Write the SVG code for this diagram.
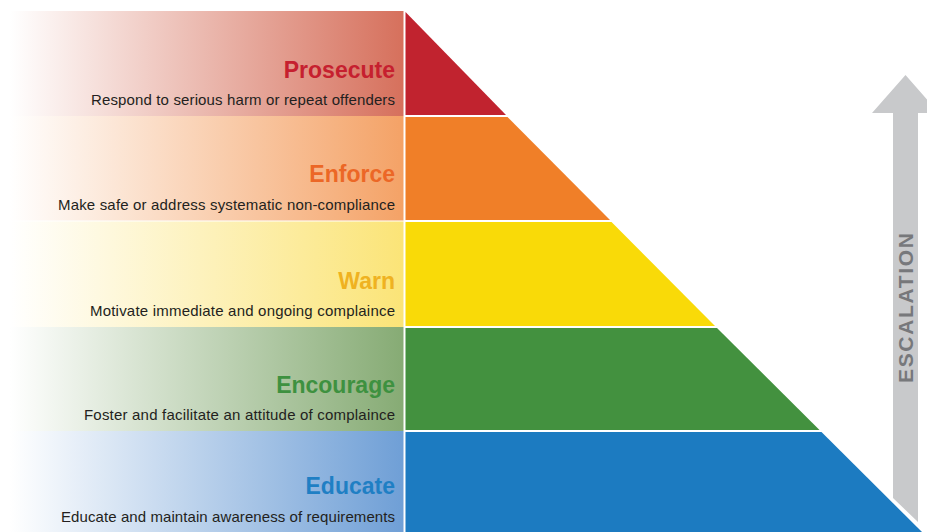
<svg xmlns="http://www.w3.org/2000/svg" width="927" height="532" viewBox="0 0 927 532">
<defs>
<linearGradient id="gRed" gradientUnits="userSpaceOnUse" x1="10" y1="0" x2="404" y2="0"><stop offset="0" stop-color="#ffffff"/><stop offset="1" stop-color="#d6705c"/></linearGradient>
<linearGradient id="gOrange" gradientUnits="userSpaceOnUse" x1="10" y1="0" x2="404" y2="0"><stop offset="0" stop-color="#ffffff"/><stop offset="1" stop-color="#f4a266"/></linearGradient>
<linearGradient id="gYellow" gradientUnits="userSpaceOnUse" x1="10" y1="0" x2="404" y2="0"><stop offset="0" stop-color="#ffffff"/><stop offset="1" stop-color="#fbe477"/></linearGradient>
<linearGradient id="gGreen" gradientUnits="userSpaceOnUse" x1="10" y1="0" x2="404" y2="0"><stop offset="0" stop-color="#ffffff"/><stop offset="1" stop-color="#86ab74"/></linearGradient>
<linearGradient id="gBlue" gradientUnits="userSpaceOnUse" x1="10" y1="0" x2="404" y2="0"><stop offset="0" stop-color="#ffffff"/><stop offset="1" stop-color="#6f9fd6"/></linearGradient>
</defs>
<style>
.title{font-family:"Liberation Sans",Arial,sans-serif;font-weight:bold;font-size:23px;text-anchor:end}
.sub{font-family:"Liberation Sans",Arial,sans-serif;font-size:15px;fill:#231f20;text-anchor:end}
.esc{font-family:"Liberation Sans",Arial,sans-serif;font-weight:bold;font-size:21px;fill:#77787b;text-anchor:middle}
</style>
<rect width="927" height="532" fill="#ffffff"/>
<g id="prosecute">
<rect x="0" y="11" width="403.5" height="105" fill="url(#gRed)"/>
<polygon points="405.5,12 506,115 405.5,115" fill="#c1232f"/>
<text class="title" x="395" y="78" fill="#c6202f">Prosecute</text>
<text class="sub" x="395" y="105" textLength="304" lengthAdjust="spacing">Respond to serious harm or repeat offenders</text>
</g>
<g id="enforce">
<rect x="0" y="116" width="403.5" height="104.5" fill="url(#gOrange)"/>
<polygon points="405.5,117 507.5,117 610,220 405.5,220" fill="#f07f28"/>
<text class="title" x="395" y="182" fill="#ec6726">Enforce</text>
<text class="sub" x="395" y="210" textLength="337" lengthAdjust="spacing">Make safe or address systematic non-compliance</text>
</g>
<g id="warn">
<rect x="0" y="221.5" width="403.5" height="105.5" fill="url(#gYellow)"/>
<polygon points="405.5,222 611.5,222 715,326 405.5,326" fill="#f9da08"/>
<text class="title" x="395" y="289" fill="#efb221">Warn</text>
<text class="sub" x="395" y="316" textLength="305" lengthAdjust="spacing">Motivate immediate and ongoing complaince</text>
</g>
<g id="encourage">
<rect x="0" y="327" width="403.5" height="104" fill="url(#gGreen)"/>
<polygon points="405.5,328 717,328 819.5,430 405.5,430" fill="#43913f"/>
<text class="title" x="395" y="393" fill="#3e9140">Encourage</text>
<text class="sub" x="395" y="420" textLength="311" lengthAdjust="spacing">Foster and facilitate an attitude of complaince</text>
</g>
<g id="educate">
<rect x="0" y="431" width="403.5" height="101" fill="url(#gBlue)"/>
<polygon points="405.5,432 821.5,432 922,532 405.5,532" fill="#1c7bc1"/>
<text class="title" x="395" y="494" fill="#1f7fc4">Educate</text>
<text class="sub" x="395" y="522" textLength="334" lengthAdjust="spacing">Educate and maintain awareness of requirements</text>
</g>
<g id="escalation">
<polygon points="905.5,75 939,113 918,113 918,522 893,498 893,113 872,113" fill="#c8c9cb"/>
<text class="esc" transform="translate(913,308) rotate(-90)" x="0" y="0" textLength="150" lengthAdjust="spacing">ESCALATION</text>
</g>
</svg>
